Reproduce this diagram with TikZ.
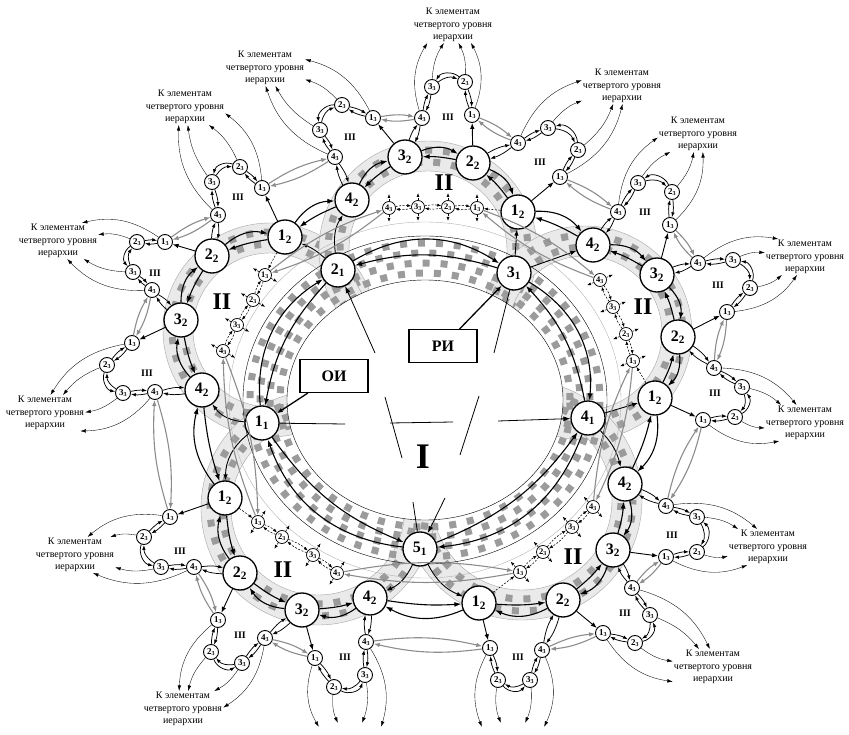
\documentclass[tikz,border=0pt]{standalone}
\usepackage{fontspec}
\setmainfont{Liberation Serif}
\usetikzlibrary{arrows.meta}
\definecolor{bandgrey}{RGB}{234,234,234}
\definecolor{squaregrey}{RGB}{155,155,155}
\definecolor{linkgrey}{RGB}{140,140,140}
\newcommand{\lbl}[2]{#1\textsubscript{#2}}
\tikzset{bignode/.style={circle,draw=black,line width=1.3pt,fill=white,minimum size=34pt,inner sep=0pt,font=\fontsize{16}{16}\selectfont\bfseries},
  smallnode/.style={circle,draw=black,line width=0.9pt,fill=white,minimum size=15pt,inner sep=0pt,font=\fontsize{9}{9}\selectfont\bfseries},
  chainnode/.style={smallnode,line width=0.7pt,minimum size=13pt,font=\fontsize{8.5}{8.5}\selectfont\bfseries},
  sourcebox/.style={draw=black,line width=1.2pt,fill=white,minimum width=68pt,minimum height=33pt,font=\fontsize{16}{16}\selectfont\bfseries},
  farlabel/.style={align=center,inner sep=1pt,font=\fontsize{10}{12.5}\selectfont},
  sinkbox/.style={inner sep=0pt,minimum width=62pt,minimum height=60pt},
  romanone/.style={font=\fontsize{36}{36}\selectfont\bfseries},
  romantwo/.style={font=\fontsize{24}{24}\selectfont\bfseries},
  romanthree/.style={font=\fontsize{10}{10}\selectfont\bfseries},
  pairarrow/.style={-{Latex[length=7pt,width=5pt]},line width=1.1pt},
  linkarrow/.style={-{Latex[length=6pt,width=4.5pt]},line width=0.9pt},
  grouparrow/.style={-{Latex[length=5pt,width=3.5pt]},line width=0.75pt},
  chainarrow/.style={-{Latex[length=4pt,width=3pt]},line width=0.55pt,dash pattern=on 2pt off 1.5pt},
  labelarrow/.style={-{Latex[length=5.5pt,width=3.5pt]},line width=0.35pt},
  greyarrow/.style={-{Latex[length=6pt,width=4.5pt]},line width=1.1pt,color=linkgrey},
  spoke/.style={line width=0.8pt},
  squares/.style={squaregrey,line width=7pt,dash pattern=on 7pt off 11pt},
  thinring/.style={line width=0.4pt}}

\newcommand{\pairarc}[4]{\draw[pairarrow] (#1) to[bend left=#3] (#2);
  \draw[pairarrow] (#2) to[bend right=#4] (#1);}
\newcommand{\twoway}[3]{\draw[#1] (#2) to[bend left=10] (#3);
  \draw[#1] (#3) to[bend left=10] (#2);}
\newcommand{\levelgroup}[6]{%
  \node[smallnode] (#1-1) at (#2) {\lbl{1}{3}};
  \node[smallnode] (#1-2) at (#3) {\lbl{2}{3}};
  \node[smallnode] (#1-3) at (#4) {\lbl{3}{3}};
  \node[smallnode] (#1-4) at (#5) {\lbl{4}{3}};
  \node[romanthree] (#1-t) at (#6) {III};
  \twoway{grouparrow}{#1-1}{#1-2}
  \draw[grouparrow] (#1-2) to[bend right=50] (#1-3);
  \draw[grouparrow] (#1-3) to[bend left=30] (#1-2);
  \twoway{grouparrow}{#1-3}{#1-4}}
\newcommand{\innerchain}[7]{%
  \node[chainnode] (#1-1) at (#2) {\lbl{1}{3}};
  \node[chainnode] (#1-2) at (#3) {\lbl{2}{3}};
  \node[chainnode] (#1-3) at (#4) {\lbl{3}{3}};
  \node[chainnode] (#1-4) at (#5) {\lbl{4}{3}};
  \node[romantwo] (#1-t) at (#6) {II};
  \foreach \k/\m in {1/2,2/3,3/4} {\twoway{chainarrow}{#1-\k}{#1-\m}}
  \foreach \k in {1,...,4} {
    \path (#1-\k) ++(#7:14) coordinate (#1-\k-p) ++(#7+180:28) coordinate (#1-\k-q);
    \draw[chainarrow] (#1-\k) -- (#1-\k-p);
    \draw[chainarrow] (#1-\k) -- (#1-\k-q);}}
\newcommand{\tolabel}[3]{%
  \pgfmathtruncatemacro{\angA}{mod(#3+50,360)}%
  \pgfmathtruncatemacro{\angB}{mod(#3+22,360)}%
  \pgfmathtruncatemacro{\angC}{mod(#3+338,360)}%
  \pgfmathtruncatemacro{\angD}{mod(#3+310,360)}%
  \draw[labelarrow] (#1-1) to[bend right=24] (#2.\angA);
  \draw[labelarrow] (#1-2) to[bend right=14] (#2.\angB);
  \draw[labelarrow] (#1-3) to[bend left=14] (#2.\angC);
  \draw[labelarrow] (#1-4) to[bend left=24] (#2.\angD);}

\begin{document}
\begin{tikzpicture}[x=1pt,y=1pt]
  \useasboundingbox (0,0) rectangle (849,-735);
  \foreach \cx/\cy/\r in {270/-330/92,428/-250/94,585/-333/92,522/-500/105,318/-508/102}{
    \draw[bandgrey,line width=30pt] (\cx,\cy) circle [radius=\r];
    \draw[squares] (\cx,\cy) circle [radius=\r-6];
    \draw[squares,dash phase=9pt] (\cx,\cy) circle [radius=\r+6];
    \draw[thinring,black!35] (\cx,\cy) circle [radius=\r-15] (\cx,\cy) circle [radius=\r+15];
  }
  \fill[white] (425,-400) ellipse [x radius=138,y radius=120];
  \foreach \d/\ph in {-15/0,-5/9,5/0,15/9}
    \draw[squares,dash phase=\ph pt] (425,-400) ellipse [x radius=160+\d,y radius=142+\d];
  \draw[thinring] (425,-400) ellipse [x radius=138,y radius=120];
  \draw[thinring] (425,-400) ellipse [x radius=182,y radius=164];
  \draw[thinring,black!30] (425,-400) ellipse [x radius=196,y radius=178];

  \node[bignode] (n11) at (262,-423) {\lbl{1}{1}};
  \node[bignode] (n21) at (338,-270) {\lbl{2}{1}};
  \node[bignode] (n31) at (514,-273) {\lbl{3}{1}};
  \node[bignode] (n41) at (588,-418) {\lbl{4}{1}};
  \node[bignode] (n51) at (420,-549) {\lbl{5}{1}};
  \foreach \nm/\x/\y/\k in {A1/285/-237/1,A2/212/-256/2,A3/181/-320/3,A4/202/-390/4,
    B1/518/-212/1,B2/473/-163/2,B3/405/-157/3,B4/352/-200/4,
    C1/655/-398/1,C2/678/-337/2,C3/657/-275/3,C4/593/-245/4,
    D1/479/-603/1,D2/563/-600/2,D3/613/-550/3,D4/625/-484/4,
    E1/225/-498/1,E2/240/-573/2,E3/302/-610/3,E4/370/-598/4}
    \node[bignode] (\nm) at (\x,\y) {\lbl{\k}{2}};

  \innerchain{iA}{265,-275}{253,-300}{237,-325}{223,-351}{222,-302}{151}
  \innerchain{iB}{477,-208}{448,-207}{418,-207}{389,-208}{444,-183}{90}
  \innerchain{iC}{633,-361}{626,-334}{613,-307}{600,-280}{643,-307}{22}
  \innerchain{iD}{520,-572}{543,-552}{572,-527}{593,-507}{573,-557}{132}
  \innerchain{iE}{258,-522}{282,-537}{313,-555}{337,-573}{283,-570}{57}

  \levelgroup{gA1}{262,-188}{240,-167}{212,-182}{218,-215}{238,-197}
  \levelgroup{gA2}{165,-242}{137,-242}{133,-272}{152,-290}{155,-273}
  \levelgroup{gA3}{132,-343}{107,-365}{123,-393}{155,-392}{147,-373}
  \levelgroup{gB1}{560,-177}{578,-150}{548,-128}{518,-143}{540,-162}
  \levelgroup{gB2}{472,-115}{465,-82}{432,-87}{422,-118}{448,-117}
  \levelgroup{gB3}{373,-118}{342,-105}{320,-130}{335,-157}{350,-137}
  \levelgroup{gC1}{703,-420}{735,-417}{742,-387}{714,-368}{715,-393}
  \levelgroup{gC2}{727,-312}{750,-288}{733,-260}{698,-263}{718,-285}
  \levelgroup{gC3}{670,-225}{672,-192}{638,-183}{618,-212}{645,-212}
  \levelgroup{gD1}{490,-648}{498,-680}{530,-680}{542,-650}{518,-657}
  \levelgroup{gD2}{603,-633}{635,-643}{650,-615}{632,-588}{625,-613}
  \levelgroup{gD3}{666,-557}{697,-552}{697,-517}{666,-506}{672,-535}
  \levelgroup{gE1}{170,-517}{144,-537}{161,-567}{194,-567}{180,-551}
  \levelgroup{gE2}{218,-620}{211,-652}{242,-663}{265,-638}{240,-635}
  \levelgroup{gE3}{315,-658}{334,-687}{365,-675}{366,-642}{345,-657}

  \node[farlabel] (lab1) at (453,-25) {К элементам\\четвертого уровня\\иерархии};
  \node[farlabel] (lab2) at (265,-68) {К элементам\\четвертого уровня\\иерархии};
  \node[farlabel] (lab3) at (185,-107) {К элементам\\четвертого уровня\\иерархии};
  \node[farlabel] (lab4) at (58,-241) {К элементам\\четвертого уровня\\иерархии};
  \node[farlabel] (lab5) at (45,-413) {К элементам\\четвертого уровня\\иерархии};
  \node[farlabel] (lab6) at (75,-555) {К элементам\\четвертого уровня\\иерархии};
  \node[farlabel] (lab7) at (183,-709) {К элементам\\четвертого уровня\\иерархии};
  \node[farlabel] (lab8) at (622,-86) {К элементам\\четвертого уровня\\иерархии};
  \node[farlabel] (lab9) at (698,-134) {К элементам\\четвертого уровня\\иерархии};
  \node[farlabel] (lab10) at (805,-257) {К элементам\\четвертого уровня\\иерархии};
  \node[farlabel] (lab11) at (805,-423) {К элементам\\четвертого уровня\\иерархии};
  \node[farlabel] (lab12) at (768,-547) {К элементам\\четвертого уровня\\иерархии};
  \node[farlabel] (lab13) at (713,-667) {К элементам\\четвертого уровня\\иерархии};
  \node[sinkbox] (endD) at (513,-753) {};
  \node[sinkbox] (endE) at (350,-753) {};

  \node[sourcebox] (oi) at (334,-376) {ОИ};
  \node[sourcebox] (ri) at (443,-346) {РИ};
  \node[romanone] (one) at (423,-457) {I};

  \coordinate (sp1) at (345,-424);
  \coordinate (sp2) at (375,-353);
  \coordinate (sp3) at (494,-353);
  \coordinate (sp4) at (498,-421);
  \coordinate (sp5) at (413,-502);
  \coordinate (sp6) at (445,-498);
  \coordinate (mid1) at (390,-423);
  \coordinate (mid2) at (453,-422);
  \coordinate (sl1) at (385,-397);
  \coordinate (sl2) at (402,-458);
  \coordinate (sr1) at (479,-396);
  \coordinate (sr2) at (460,-455);
  \draw[spoke] (sp1) -- (n11);
  \draw[spoke,-{Latex[length=7pt,width=5pt]}] (sp2) -- (n21);
  \draw[spoke] (sp3) -- (n31);
  \draw[spoke,-{Latex[length=7pt,width=5pt]}] (sp4) -- (n41);
  \draw[spoke] (sp5) -- (n51);
  \draw[spoke,-{Latex[length=7pt,width=5pt]}] (sp6) -- (n51);
  \draw[spoke] (mid1) -- (mid2);
  \draw[spoke] (sl1) -- (sl2);
  \draw[spoke] (sr1) -- (sr2);
  \draw[linkarrow,line width=1.3pt] (oi) -- (n11);
  \draw[linkarrow,line width=1.3pt] (ri) -- (n31);

  \foreach \a/\b in {n11/n21,n21/n31,n31/n41,n41/n51,n51/n11} {\pairarc{\a}{\b}{32}{16}}
  \foreach \a/\b in {A4/A3,A3/A2,A2/A1,A1/B4,B4/B3,B3/B2,B2/B1,B1/C4,C4/C3,C3/C2,C2/C1,C1/D4,
    D4/D3,D3/D2,D2/D1,D1/E4,E4/E3,E3/E2,E2/E1,E1/A4} {\pairarc{\a}{\b}{26}{6}}

  \draw[linkarrow] (n21) to[bend right=10] (A1);
  \draw[linkarrow] (n21) to[bend left=20] (B4);
  \draw[linkarrow] (n31) -- (B1);
  \draw[linkarrow] (n31) -- (C4);
  \draw[linkarrow] (n41) -- (C1);
  \draw[linkarrow] (n41) to[bend left=15] (D4);
  \draw[linkarrow] (n11) to[bend left=25] (A4);
  \draw[linkarrow] (n11) to[bend right=25] (E1);
  \draw[linkarrow] (n51) to[bend left=20] (E4);
  \draw[linkarrow] (n51) to[bend right=20] (D1);

  \foreach \r in {A,B,C,D,E}{
    \draw[chainarrow] (\r1) -- (i\r-1);
    \foreach \k/\n in {1/2,2/3,3/4}{
      \draw[linkarrow] (\r\k) -- (g\r\k-1);
      \twoway{grouparrow}{g\r\k-4}{\r\n}
    }}

  \foreach \a/\b in {gA1/gA2,gA2/gA3,gA3/gE1,gE1/gE2,gE2/gE3,gE3/gD1,gD1/gD2,gD2/gD3,
    gD3/gC1,gC1/gC2,gC2/gC3,gC3/gB1,gB1/gB2,gB2/gB3,gB3/gA1} {\twoway{greyarrow}{\a-4}{\b-1}}
  \foreach \a/\b in {iA/iE,iE/iD,iD/iC,iC/iB,iB/iA} {\twoway{greyarrow}{\a-4}{\b-1}}

  \tolabel{gB2}{lab1}{265}
  \tolabel{gB3}{lab2}{322}
  \tolabel{gA1}{lab3}{301}
  \tolabel{gA2}{lab4}{347}
  \tolabel{gA3}{lab5}{23}
  \tolabel{gE1}{lab6}{5}
  \tolabel{gE2}{lab7}{52}
  \tolabel{gB1}{lab8}{222}
  \tolabel{gC3}{lab9}{235}
  \tolabel{gC2}{lab10}{196}
  \tolabel{gC1}{lab11}{165}
  \tolabel{gD3}{lab12}{171}
  \tolabel{gD2}{lab13}{150}
  \tolabel{gD1}{endD}{90}
  \tolabel{gE3}{endE}{90}
\end{tikzpicture}
\end{document}
